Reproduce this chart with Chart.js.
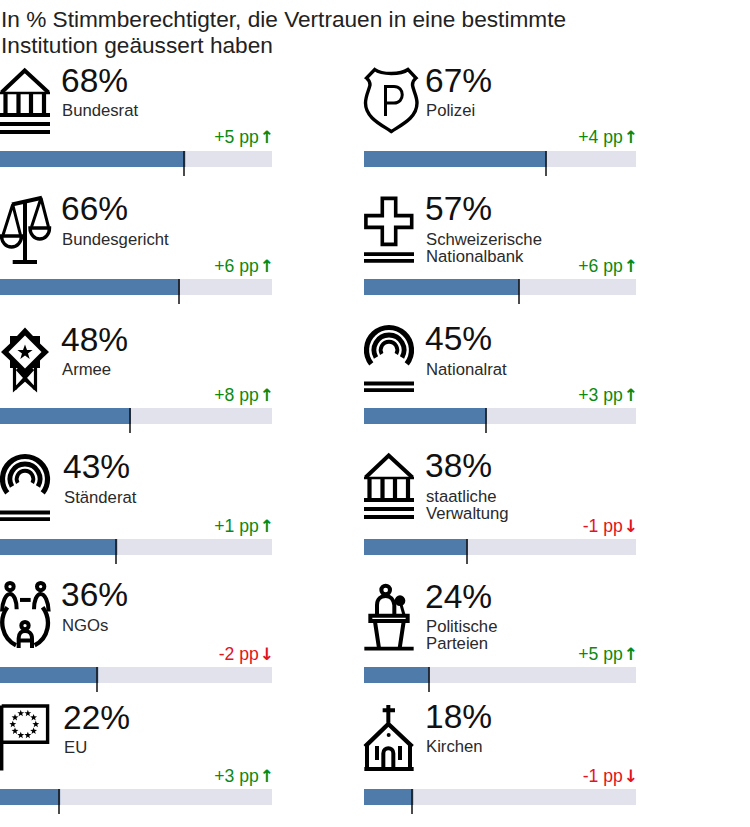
<!DOCTYPE html>
<html lang="de"><head><meta charset="utf-8">
<script src="https://cdn.jsdelivr.net/npm/chart.js@4/dist/chart.umd.min.js"></script>
<style>
html,body{margin:0;padding:0;background:#fff}
#page{position:relative;width:750px;height:827px;overflow:hidden;font-family:"Liberation Sans",Arial,sans-serif;color:#111}
#page div,#page canvas{position:absolute}
.t{white-space:nowrap;line-height:1}
.title{font-size:22.65px;color:#222}
.num{font-size:33.5px;color:#111}
.lab{font-size:16.7px;color:#2a2a2a}
.del{font-size:17.6px;text-align:right}
.del b{font-family:"DejaVu Sans";font-size:17px;line-height:0;font-weight:700;margin-left:1px;margin-right:-2px}
svg{position:absolute;left:0;top:0}
</style></head><body>
<div id="page">
<svg width="750" height="827" viewBox="0 0 750 827" fill="none" stroke="#000">
<defs>
<g id="bank">
  <path d="M1.5 92.5 L24.7 70.5 L48.5 92.5" stroke-width="4"/>
  <path d="M0 93H50" stroke-width="2.6"/>
  <path d="M5.5 92V114M18.5 92V114M31 92V114M44 92V114" stroke-width="4.2"/>
  <path d="M0 115H50M0 124H50M0 132H50" stroke-width="4"/>
</g>
<g id="arch">
  <path d="M7.3 492.9 A22.5 22.5 0 1 1 42.7 492.9" stroke-width="5.2"/>
  <path d="M12 486.5 A15 15 0 1 1 38 486.5" stroke-width="4.8"/>
  <path d="M17.7 483 A8.3 8.3 0 1 1 32.3 483" stroke-width="3.8"/>
  <path d="M0 512.5H50M0 519.2H50" stroke-width="3.8"/>
</g>
</defs>
<use href="#bank"/>
<use href="#bank" x="364" y="385"/>
<use href="#arch"/>
<use href="#arch" x="364" y="-129"/>
<!-- Polizei -->
<g transform="translate(364,68)">
  <path d="M27.3 5.5C20 5.5 14 4 10.7 1.5L2.5 10C5 12 6 14 6 17C5 22 1.5 28 1.5 35C1.5 50 18 57 27.3 63.5C37 57 53 50 53 35C53 28 49 22 48.5 17C48.5 14 49.5 12 52 10L44 1.5C40.5 4 34.5 5.5 27.3 5.5Z" stroke-width="3.4"/>
  <path d="M21.5 48V18.5H30C41 18.5 41 35 30 35H21.5" stroke-width="3"/>
</g>
<!-- Bundesgericht -->
<g>
  <path d="M12 204.5L42 197.8" stroke-width="4"/>
  <path d="M25 201V262" stroke-width="4"/>
  <path d="M12.7 262H37" stroke-width="4"/>
  <path d="M12.7 204.5L3 235M12.7 204.5L20.5 235M41 198L31.5 227M41 198L48.5 227" stroke-width="3"/>
  <path d="M1.5 236H21.5A10 11 0 0 1 1.5 236ZM30 228H49.5A9.7 11 0 0 1 30 228Z" stroke-width="3.4"/>
</g>
<!-- SNB -->
<g>
  <path d="M382.3 198.4H395.7V215.6H411.7V227.4H395.7V244.4H382.3V227.4H365.9V215.6H382.3Z" stroke-width="3.6"/>
  <path d="M364 254.2H414M364 260.8H414" stroke-width="3.8"/>
</g>
<!-- Armee -->
<g>
  <path d="M25 327.5L33 336H40V343.5L49 352L40 360.5V368H33L25 376.5L17 368H10V360.5L1 352L10 343.5V336H17Z" fill="#000" stroke="none"/>
  <path d="M25 335.5L41.5 352L25 368.5L8.5 352Z" fill="#fff" stroke="none"/>
  <path d="M25 344.5L27 350H32.6L28 353.4L29.7 359L25 355.6L20.3 359L22 353.4L17.4 350H23Z" fill="#000" stroke="none"/>
  <path d="M14.5 367V389L25 379.5L35.5 389V367M17 369L35 389M33 369L15 389" stroke-width="3.2"/>
</g>
<!-- NGOs -->
<g transform="scale(.3333) translate(0,1710)" stroke-width="12">
  <circle cx="30" cy="50" r="11"/><circle cx="122" cy="50" r="11"/>
  <path d="M60 90H92" stroke-width="12"/>
  <path d="M6 125C6 95 18 72 30 72C42 72 50 92 50 118M102 118C102 92 110 72 122 72C134 72 146 95 146 125"/>
  <path d="M22 112C-6 150 6 205 48 226M128 112C156 150 146 205 104 226" stroke-width="13"/>
  <circle cx="75" cy="167" r="11"/>
  <path d="M56 234V205C56 190 65 183 75 183C85 183 96 190 96 205V234M56 212H96" />
</g>
<!-- EU -->
<g>
  <path d="M1.7 705.5V770.5" stroke-width="3.4"/>
  <path d="M1.7 706H47.6V742.3H1.7" stroke-width="3.4"/>
  <g id="stars" fill="#000" stroke="none"></g>
</g>
<!-- Parteien -->
<g transform="translate(355,570) scale(.3333)" stroke-width="12">
  <circle cx="92" cy="60" r="13"/>
  <path d="M66 135V105C66 85 80 78 92 78C106 78 116 88 118 105V135"/>
  <circle cx="135" cy="92" r="10" fill="#000"/>
  <path d="M137 100L147 135" stroke-width="9"/>
  <path d="M46 137H158V153H46Z"/>
  <path d="M60 155L72 235M146 155L134 235"/>
  <path d="M28 236H176" stroke-width="11"/>
</g>
<!-- Kirchen -->
<g transform="translate(355,570) scale(.3333)" stroke-width="12">
  <path d="M100 405V458M83 421H120"/>
  <path d="M30 530L100 462L172 530" stroke-width="13"/>
  <path d="M36 522V595M165 522V595"/>
  <path d="M28 597H176" stroke-width="12"/>
  <path d="M85 595V550C85 530 115 530 115 550V595"/>
  <path d="M66 528V570M135 528V570"/>
  <circle cx="101" cy="495" r="6" fill="#000" stroke="none"/>
</g>
</svg>
</div>
<script>
const categories = [["Bundesrat"],["Polizei"],["Bundesgericht"],["Schweizerische","Nationalbank"],["Armee"],["Nationalrat"],["Ständerat"],["staatliche","Verwaltung"],["NGOs"],["Politische","Parteien"],["EU"],["Kirchen"]];
const trustValues = [68,67,66,57,48,45,43,38,36,24,22,18];
const changeValues = [5,4,6,6,8,3,1,-1,-2,5,3,-1];
const axisMax = 100;
const titleLines = ["In % Stimmberechtigter, die Vertrauen in eine bestimmte","Institution geäussert haben"];

// layout only: column x, bar top per row, text baselines per panel
const colX = [0,364];
const barTop = [151,279,408,539,667,789];
const numBase = [93,93,221,221,352,351,479,478,607,609,730,729];
const labBase = [117,117,246,246,376,376,504,503,632,633,754,753];
const delBase = [144,144,273,273,402,402,533,533,661,661,783,783];
const numIndent = [61,61,61,61,61,61,63,61,61,61,63,61];
const barColor = "#4f7bab", trackColor = "#e1e2ec", GREEN = "#0b8a12", RED = "#e2141c";

const page = document.getElementById("page");
function text(cls,str,x,base,asc,extra){
  const d=document.createElement("div");d.className="t "+cls;d.textContent=str;
  d.style.left=x+"px";d.style.top=(base-asc)+"px";
  if(extra)Object.assign(d.style,extra);page.appendChild(d);return d;
}
titleLines.forEach((l,i)=>text("title",l,1,[27.5,53.5][i],20));

const tickPlugin={id:"tick",afterDatasetsDraw(c){
  const v=c.data.datasets[0].data[0],x=c.scales.x.getPixelForValue(v),ctx=c.ctx;
  ctx.save();ctx.fillStyle="#111";ctx.fillRect(Math.floor(x)-0.75,0,1.5,25);ctx.restore();
}};

categories.forEach((lines,i)=>{
  const col=i%2,row=Math.floor(i/2),x0=colX[col];
  const cv=document.createElement("canvas");
  cv.width=272;cv.height=25;
  cv.style.left=x0+"px";cv.style.top=barTop[row]+"px";cv.style.width="272px";cv.style.height="25px";
  page.appendChild(cv);
  new Chart(cv,{type:"bar",plugins:[tickPlugin],
    data:{labels:[lines.join(" ")],datasets:[
      {label:"Vertrauen",data:[trustValues[i]],backgroundColor:barColor,barPercentage:1,categoryPercentage:1},
      {label:"Rest",data:[axisMax-trustValues[i]],backgroundColor:trackColor,barPercentage:1,categoryPercentage:1}]},
    options:{indexAxis:"y",responsive:false,animation:false,devicePixelRatio:1,
      layout:{padding:{left:0,right:0,top:0,bottom:9}},
      plugins:{legend:{display:false},tooltip:{enabled:false}},
      scales:{x:{display:false,stacked:true,min:0,max:axisMax},y:{display:false,stacked:true}}}
  });
  const nx=x0+numIndent[i];
  text("num",trustValues[i]+"%",nx,numBase[i],29.5);
  lines.forEach((l,k)=>text("lab",l,nx+1,labBase[i]+k*17.5,14.5));
  const ch=changeValues[i],up=ch>0,col2=up?GREEN:RED;
  const d=text("del",(up?"+":"")+ch+" pp",0,delBase[i],15,{color:col2,left:"auto",right:(750-x0-272)+"px"});
  const b=document.createElement("b");b.textContent=up?"↑":"↓";d.appendChild(b);
});

// EU stars are decoration of the flag icon
const starG=document.getElementById("stars");let sd="";
for(let s=0;s<10;s++){const a=s/10*2*Math.PI,cx=24.3+11.5*Math.cos(a),cy=724.3+11.5*Math.sin(a);
  for(let k=0;k<10;k++){const r=k%2?1.5:3.6,b=-Math.PI/2+k*Math.PI/5;sd+=(k?"L":"M")+(cx+r*Math.cos(b)).toFixed(2)+" "+(cy+r*Math.sin(b)).toFixed(2);}sd+="Z";}
const p=document.createElementNS("http://www.w3.org/2000/svg","path");p.setAttribute("d",sd);starG.appendChild(p);
</script>
</body></html>
